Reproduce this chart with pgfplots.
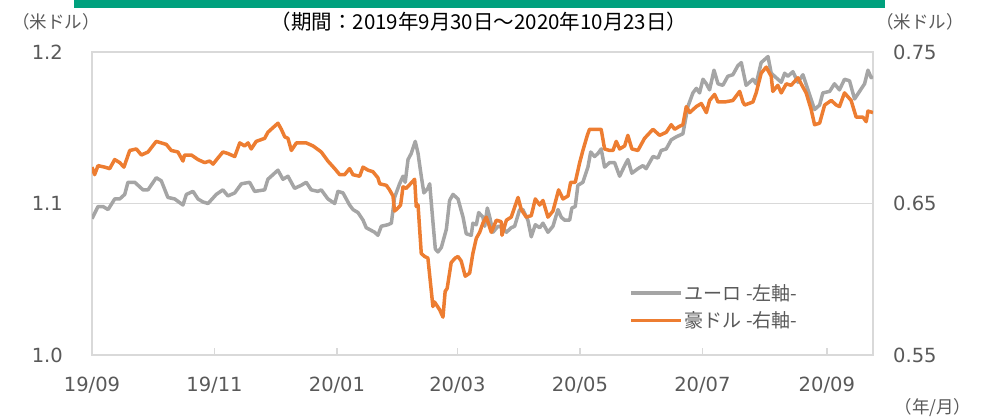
\documentclass[border=0pt]{standalone}
\usepackage{fontspec}
\setmainfont{DejaVu Sans}
\newfontfamily\jp{Noto Sans CJK JP}
\usepackage{pgfplots}
\pgfplotsset{compat=1.18}
\definecolor{eur}{HTML}{A5A5A5}
\definecolor{aud}{HTML}{ED7D31}
\definecolor{gridc}{HTML}{D9D9D9}
\definecolor{txt}{HTML}{595959}
\definecolor{topbar}{RGB}{0,161,126}

\pgfplotstableread{
d v
0 1.090
3.0 1.098
5.5 1.098
8.0 1.096
11.3 1.103
13.8 1.103
16.3 1.106
17.9 1.114
21.3 1.114
25.4 1.109
27.9 1.109
32.0 1.117
34.5 1.115
37.8 1.104
41.2 1.103
45.3 1.099
47.0 1.106
50.3 1.108
52.8 1.103
55.3 1.101
57.8 1.100
61.9 1.106
65.2 1.109
67.7 1.105
71.1 1.107
74.4 1.113
78.5 1.114
81.0 1.108
86.0 1.109
87.6 1.116
92.6 1.122
95.1 1.116
97.6 1.118
100.9 1.110
104.2 1.112
106.7 1.114
109.2 1.109
112.5 1.108
114.2 1.109
117.5 1.103
120.9 1.100
122.5 1.108
125.0 1.107
128.3 1.099
130.0 1.096
132.5 1.094
135.0 1.089
136.6 1.084
140.8 1.081
142.4 1.079
144.1 1.085
147.4 1.086
149.1 1.087
150.7 1.104
153.2 1.113
154.9 1.118
156.0 1.114
157.4 1.129
159.0 1.133
161.0 1.141
162.4 1.133
164.0 1.118
165.3 1.107
167.3 1.110
168.2 1.113
169.8 1.088
171.0 1.070
172.3 1.068
174.0 1.071
176.5 1.083
178.1 1.102
179.8 1.106
182.3 1.103
184.8 1.091
186.4 1.080
188.9 1.079
189.7 1.087
191.4 1.086
192.6 1.094
194.7 1.091
195.6 1.085
196.9 1.097
198.1 1.091
199.7 1.081
202.2 1.085
204.7 1.084
206.4 1.081
208.8 1.084
210.5 1.085
213.0 1.096
214.6 1.096
217.1 1.089
218.8 1.078
220.8 1.086
223.0 1.084
224.6 1.087
227.1 1.081
229.6 1.085
232.1 1.096
233.7 1.091
235.4 1.089
237.9 1.089
239.0 1.097
240.7 1.098
242.0 1.112
244.5 1.114
247.0 1.124
248.4 1.134
250.3 1.131
252.0 1.133
253.6 1.136
255.3 1.124
257.8 1.127
260.3 1.127
262.8 1.118
265.3 1.125
266.9 1.129
268.9 1.120
271.9 1.123
274.4 1.125
276.0 1.123
279.4 1.131
281.9 1.130
283.5 1.135
286.0 1.136
288.5 1.142
291.0 1.144
294.3 1.146
296.8 1.164
299.3 1.173
301.0 1.176
302.6 1.173
304.3 1.182
306.0 1.179
307.6 1.175
309.8 1.188
311.8 1.179
314.2 1.178
316.7 1.184
319.2 1.185
321.7 1.191
323.4 1.193
325.8 1.178
329.2 1.182
330.8 1.179
333.3 1.193
336.7 1.197
338.3 1.186
340.8 1.183
343.3 1.180
345.0 1.186
346.6 1.184
349.1 1.187
351.6 1.180
354.1 1.185
356.6 1.175
359.9 1.162
362.4 1.165
364.0 1.173
367.4 1.174
369.8 1.179
372.3 1.175
374.8 1.182
377.3 1.181
379.8 1.169
382.3 1.174
384.8 1.179
386.5 1.188
388.1 1.183
389.0 1.184
}\eurdata

\pgfplotstableread{
d v
0 0.674
1.3 0.669
3.0 0.675
6.3 0.674
8.8 0.673
11.3 0.679
13.8 0.677
15.9 0.674
18.8 0.685
22.1 0.686
24.6 0.682
27.9 0.684
32.0 0.691
37.0 0.689
39.5 0.685
42.8 0.684
45.3 0.678
46.1 0.682
49.5 0.682
52.8 0.679
56.1 0.677
58.6 0.678
60.3 0.676
62.7 0.680
65.2 0.684
67.7 0.683
71.1 0.681
73.6 0.690
76.0 0.688
77.7 0.690
79.3 0.686
81.8 0.691
86.0 0.693
87.6 0.697
90.1 0.700
92.6 0.703
94.3 0.699
96.0 0.694
97.6 0.693
99.3 0.685
101.8 0.690
106.7 0.690
110.1 0.688
114.2 0.684
117.5 0.678
120.9 0.673
123.4 0.669
125.8 0.669
128.3 0.673
130.0 0.669
133.3 0.668
135.0 0.674
137.5 0.672
139.9 0.671
142.4 0.667
143.3 0.663
146.6 0.662
148.2 0.659
149.9 0.655
150.7 0.645
152.4 0.647
153.7 0.649
154.9 0.661
156.5 0.660
160.7 0.666
161.5 0.648
162.4 0.649
164.0 0.617
165.7 0.615
167.3 0.614
169.8 0.582
170.6 0.585
173.1 0.580
174.8 0.575
175.9 0.592
176.9 0.594
178.9 0.611
180.9 0.614
182.3 0.615
183.9 0.612
185.9 0.602
188.1 0.604
189.7 0.617
191.4 0.627
193.1 0.631
194.7 0.637
196.4 0.641
198.9 0.631
201.4 0.639
203.8 0.638
204.2 0.629
206.4 0.639
208.8 0.641
212.2 0.654
213.8 0.646
216.3 0.641
218.8 0.642
220.8 0.653
223.0 0.649
224.6 0.652
227.1 0.641
229.6 0.645
232.4 0.659
234.6 0.653
237.1 0.655
238.4 0.664
240.7 0.664
242.9 0.677
244.5 0.685
246.7 0.695
247.8 0.699
253.6 0.699
255.3 0.686
257.8 0.685
259.5 0.685
261.1 0.691
262.8 0.686
265.3 0.688
266.9 0.695
268.9 0.686
271.9 0.685
275.2 0.693
279.4 0.699
282.7 0.695
286.0 0.697
288.5 0.702
290.2 0.699
292.7 0.701
294.3 0.702
296.0 0.714
297.7 0.710
301.0 0.714
303.5 0.716
306.0 0.710
307.6 0.718
310.1 0.722
311.8 0.717
315.1 0.717
319.2 0.718
322.6 0.724
324.2 0.717
325.1 0.715
329.2 0.717
330.8 0.723
333.3 0.736
335.8 0.740
338.3 0.734
339.1 0.724
341.6 0.728
343.3 0.723
345.8 0.729
348.2 0.728
351.6 0.733
353.2 0.729
355.7 0.723
358.2 0.712
359.9 0.702
362.4 0.703
364.9 0.715
368.2 0.718
370.7 0.715
372.3 0.714
374.8 0.723
378.1 0.718
380.6 0.707
384.0 0.707
385.6 0.704
386.5 0.711
389.0 0.710
}\auddata

\begin{document}
\begin{tikzpicture}
\useasboundingbox (0pt,0pt) rectangle (982pt,420pt);
\fill[topbar] (74pt,412pt) rectangle (885pt,420pt);
\node[font=\jp\fontsize{20.5}{20.5}\selectfont, text=black] at (479pt,398pt) {（期間：2019年9月30日～2020年10月23日）};
\node[font=\jp\fontsize{17.5}{17.5}\selectfont, text=txt] at (56pt,398pt) {（米ドル）};
\node[font=\jp\fontsize{17.5}{17.5}\selectfont, text=txt] at (920pt,398pt) {（米ドル）};
\node[font=\jp\fontsize{17.5}{17.5}\selectfont, text=txt] at (933pt,12pt) {（年/月）};

\begin{axis}[
  at={(92pt,65pt)}, anchor=south west,
  width=781pt, height=303pt, scale only axis,
  xmin=0, xmax=389, ymin=1.0, ymax=1.2,
  axis line style={gridc, line width=1.5pt},
  xtick={0,61,122,182,243,304,366},
  xticklabels={19/09,19/11,20/01,20/03,20/05,20/07,20/09},
  xtick pos=bottom, tick align=inside,
  xtick style={gridc, line width=1.5pt},
  major tick length=7pt,
  ytick={1.0,1.1,1.2}, yticklabels={1.0,1.1,1.2},
  ytick pos=left, ytick style={draw=none},
  ymajorgrids, grid style={gridc, line width=1.5pt},
  ticklabel style={text=txt, font=\fontsize{19.5}{20}\selectfont, inner sep=0pt},
  xticklabel style={anchor=north, yshift=-22pt},
  yticklabel style={anchor=east, xshift=-29pt},
]
\addplot[eur, line width=3.5pt, line join=round] table[x=d, y=v] {\eurdata};
\end{axis}

\begin{axis}[
  at={(92pt,65pt)}, anchor=south west,
  width=781pt, height=303pt, scale only axis,
  xmin=0, xmax=389, ymin=0.55, ymax=0.75,
  hide x axis,
  axis y line*=right,
  y axis line style={draw=none},
  ytick={0.55,0.65,0.75}, yticklabels={0.55,0.65,0.75},
  ytick style={draw=none},
  yticklabel style={text=txt, font=\fontsize{19.5}{20}\selectfont, inner sep=0pt, anchor=west, xshift=20pt},
  legend style={at={(0.684,0.2475)}, anchor=north west, draw=none, fill=none,
    font=\jp\fontsize{19}{19}\selectfont, text=txt, row sep=6pt,
    nodes={inner sep=2pt}},
  legend cell align=left,
  legend image code/.code={\draw[#1] (0pt,0pt) -- (50pt,0pt);},
]
\addlegendimage{eur, line width=3.5pt}
\addlegendentry{ユーロ -左軸-}
\addplot[aud, line width=3.5pt, line join=round] table[x=d, y=v] {\auddata};
\addlegendentry{豪ドル -右軸-}
\end{axis}
\end{tikzpicture}
\end{document}
